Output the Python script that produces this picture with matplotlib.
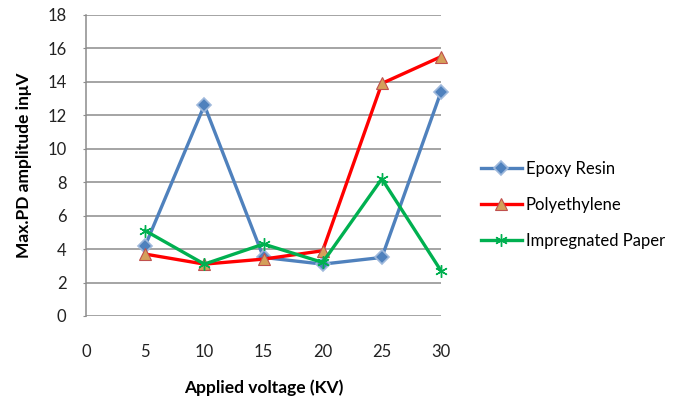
import matplotlib
matplotlib.use("Agg")
import matplotlib.pyplot as plt

voltage = [5, 10, 15, 20, 25, 30]
epoxy = [4.2, 12.6, 3.5, 3.1, 3.5, 13.4]
polyethylene = [3.7, 3.1, 3.4, 3.9, 13.9, 15.5]
paper = [5.1, 3.1, 4.3, 3.2, 8.2, 2.7]
xticks = [0, 5, 10, 15, 20, 25, 30]
yticks = [0, 2, 4, 6, 8, 10, 12, 14, 16, 18]

plt.rcParams['font.family'] = ['Lato', 'DejaVu Sans']

fig = plt.figure(figsize=(6.79, 4.01), dpi=100)
ax = fig.add_axes([0.1267, 0.212, 0.5228, 0.751])

grid_c = '#8c8c8c'
for y in yticks:
    ax.axhline(y, color=grid_c, lw=1.1, zorder=1)

ax.plot(voltage, epoxy, color='#4F81BD', lw=2.4, marker='D', ms=7,
        mfc='#4F81BD', mec='#9fb9dc', mew=1.2, label='Epoxy Resin', zorder=3,
        clip_on=False)
ax.plot(voltage, polyethylene, color='#FF0000', lw=2.4, marker='^', ms=9,
        mfc='#D4A05A', mec='#C0504D', mew=0.8, label='Polyethylene', zorder=4,
        clip_on=False)
ax.plot(voltage, paper, color='#00B050', lw=2.4, marker=(6, 2, 0), ms=9,
        mec='#00B050', mew=1.0, label='Impregnated Paper', zorder=5,
        clip_on=False)

ax.set_xlim(0, 30)
ax.set_ylim(0, 18)
ax.set_xticks(xticks)
ax.set_yticks(yticks)
for s in ['top', 'right', 'bottom']:
    ax.spines[s].set_visible(False)
ax.spines['left'].set_color(grid_c)
ax.spines['left'].set_linewidth(1.1)
ax.tick_params(axis='y', length=2, color=grid_c, pad=12, labelsize=12, labelcolor='#222222')
ax.tick_params(axis='x', length=0, pad=20, labelsize=12, labelcolor='#222222')

ax.set_xlabel('Applied voltage (KV)', fontsize=12.5, fontweight='bold', labelpad=14)
ax.set_ylabel('Max.PD amplitude inμV', fontsize=12.5, fontweight='bold', labelpad=11)

leg = fig.legend(loc='center left', bbox_to_anchor=(0.698, 0.49), frameon=False,
                 fontsize=12, handlelength=2.5, handletextpad=0.2, labelspacing=1.2,
                 borderaxespad=0)

fig.savefig('out.png', dpi=100)
